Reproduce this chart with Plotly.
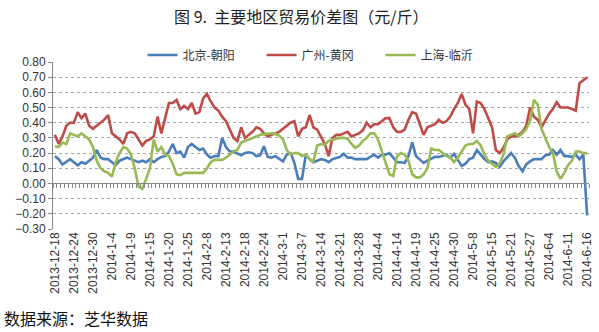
import plotly.graph_objects as go

date_labels = ["2013-12-18", "2013-12-24", "2013-12-30", "2014-1-4", "2014-1-9", "2014-1-15",
               "2014-1-20", "2014-1-25", "2014-2-8", "2014-2-13", "2014-2-18", "2014-2-24",
               "2014-3-1", "2014-3-7", "2014-3-14", "2014-3-21", "2014-3-28", "2014-4-4",
               "2014-4-14", "2014-4-19", "2014-4-25", "2014-4-30", "2014-5-8", "2014-5-15",
               "2014-5-21", "2014-5-27", "2014-6-4", "2014-6-11", "2014-6-16"]

series_names = ["北京-朝阳", "广州-黄冈", "上海-临沂"]

beijing = [0.18, 0.16, 0.125, 0.145, 0.16, 0.14, 0.12, 0.14, 0.13, 0.15,
           0.17, 0.22, 0.17, 0.16, 0.16, 0.14, 0.12, 0.15, 0.16, 0.17,
           0.16, 0.15, 0.14, 0.15, 0.14, 0.16, 0.14, 0.16, 0.175, 0.18,
           0.21, 0.26, 0.20, 0.21, 0.17, 0.24, 0.26, 0.24, 0.22, 0.23,
           0.19, 0.17, 0.18, 0.18, 0.30, 0.24, 0.21, 0.21, 0.20, 0.185,
           0.20, 0.205, 0.20, 0.18, 0.185, 0.245, 0.175, 0.17, 0.18, 0.16,
           0.145, 0.19, 0.20, 0.135, 0.03, 0.03, 0.19, 0.16, 0.14, 0.15,
           0.16, 0.155, 0.14, 0.16, 0.165, 0.175, 0.195, 0.17, 0.17, 0.16,
           0.16, 0.16, 0.16, 0.175, 0.19, 0.17, 0.19, 0.19, 0.20, 0.17,
           0.14, 0.14, 0.135, 0.18, 0.27, 0.18, 0.16, 0.135, 0.15, 0.16,
           0.175, 0.175, 0.18, 0.19, 0.17, 0.195, 0.155, 0.115, 0.13, 0.16,
           0.17, 0.22, 0.19, 0.16, 0.14, 0.145, 0.135, 0.11, 0.145, 0.17,
           0.20, 0.17, 0.115, 0.08, 0.125, 0.145, 0.16, 0.16, 0.16, 0.185,
           0.19, 0.22, 0.19, 0.22, 0.18, 0.18, 0.175, 0.19, 0.16, 0.19,
           -0.21]

guangzhou = [0.32, 0.26, 0.31, 0.38, 0.40, 0.40, 0.47, 0.43, 0.46, 0.38,
             0.36, 0.38, 0.40, 0.42, 0.45, 0.33, 0.31, 0.29, 0.26, 0.33,
             0.34, 0.33, 0.29, 0.25, 0.28, 0.29, 0.31, 0.44, 0.33, 0.43,
             0.53, 0.53, 0.55, 0.49, 0.51, 0.49, 0.53, 0.46, 0.47, 0.56,
             0.59, 0.54, 0.50, 0.48, 0.44, 0.41, 0.36, 0.30, 0.28, 0.37,
             0.30, 0.32, 0.34, 0.37, 0.36, 0.33, 0.31, 0.32, 0.33, 0.34,
             0.36, 0.38, 0.40, 0.41, 0.31, 0.36, 0.37, 0.45, 0.37, 0.355,
             0.31, 0.26, 0.18, 0.30, 0.32, 0.32, 0.33, 0.34, 0.31, 0.32,
             0.33, 0.35, 0.40, 0.37, 0.39, 0.39, 0.41, 0.43, 0.43, 0.37,
             0.34, 0.34, 0.355, 0.42, 0.47, 0.46, 0.39, 0.32, 0.37, 0.38,
             0.39, 0.42, 0.40, 0.41, 0.44, 0.49, 0.53, 0.59, 0.52, 0.49,
             0.33, 0.54, 0.53, 0.49, 0.43, 0.37, 0.22, 0.20, 0.235, 0.29,
             0.31, 0.31, 0.32, 0.34, 0.38, 0.50, 0.44, 0.42, 0.37, 0.42,
             0.46, 0.49, 0.535, 0.50, 0.50, 0.50, 0.49, 0.48, 0.66, 0.68,
             0.70]

shanghai = [0.245, 0.24, 0.27, 0.26, 0.33, 0.32, 0.31, 0.33, 0.31, 0.29,
            0.24, 0.15, 0.10, 0.08, 0.07, 0.045, 0.14, 0.20, 0.24, 0.23,
            0.19, 0.10, -0.02, -0.035, 0.03, 0.10, 0.29, 0.21, 0.24, 0.19,
            0.18, 0.13, 0.06, 0.055, 0.07, 0.07, 0.07, 0.07, 0.07, 0.07,
            0.10, 0.14, 0.155, 0.155, 0.155, 0.17, 0.19, 0.21, 0.22, 0.27,
            0.28, 0.29, 0.30, 0.315, 0.32, 0.325, 0.33, 0.33, 0.325, 0.315,
            0.29, 0.22, 0.19, 0.20, 0.20, 0.18, 0.19, 0.16, 0.145, 0.25,
            0.26, 0.255, 0.28, 0.29, 0.295, 0.30, 0.30, 0.295, 0.26, 0.235,
            0.25, 0.28, 0.30, 0.33, 0.33, 0.29, 0.21, 0.125, 0.06, 0.05,
            0.18, 0.20, 0.19, 0.15, 0.06, 0.04, 0.04, 0.06, 0.10, 0.23,
            0.22, 0.22, 0.20, 0.18, 0.17, 0.14, 0.17, 0.21, 0.25, 0.26,
            0.26, 0.28, 0.25, 0.19, 0.15, 0.13, 0.11, 0.13, 0.19, 0.31,
            0.32, 0.33, 0.31, 0.33, 0.36, 0.41, 0.55, 0.52, 0.36, 0.30,
            0.24, 0.20, 0.08, 0.03, 0.07, 0.12, 0.15, 0.21, 0.21, 0.20,
            0.20]

colors = ["#4A7EBB", "#BE4B48", "#98B954"]
n = len(beijing)
x = list(range(n))
label_step = 5

fig = go.Figure()
for name, vals, col in zip(series_names, [beijing, guangzhou, shanghai], colors):
    fig.add_trace(go.Scatter(x=x, y=vals, mode="lines", name=name,
                             line=dict(color=col, width=2.6)))

# invisible trace on secondary x axis to draw tick marks on the zero line
fig.add_trace(go.Scatter(x=[x[0]], y=[0], xaxis="x2", mode="markers",
                         marker=dict(opacity=0), showlegend=False, hoverinfo="skip"))

y_min, y_max = -0.3, 0.8
zero_pos = (0 - y_min) / (y_max - y_min)

fig.update_layout(
    width=599, height=332,
    margin=dict(l=53, r=10, t=62, b=103, autoexpand=False),
    paper_bgcolor="white", plot_bgcolor="white",
    font=dict(family="Liberation Sans, Arial, sans-serif", color="#333333", size=11),
    title=dict(text="图 9.  主要地区贸易价差图（元/斤）",
               font=dict(family="Noto Sans CJK SC", size=16, color="#222222"),
               x=0.503, xref="container", xanchor="center",
               y=1 - 17 / 332, yref="container", yanchor="middle"),
    legend=dict(orientation="h", x=0.238, xref="container", xanchor="left",
                y=1 - 55 / 332, yref="container", yanchor="middle",
                font=dict(family="Noto Sans CJK SC", size=12, color="#333333"),
                bgcolor="rgba(0,0,0,0)", entrywidth=74, entrywidthmode="pixels",
                itemwidth=30),
    xaxis=dict(range=[-0.5, n - 0.5], tickmode="array",
               tickvals=x[::label_step], ticktext=date_labels,
               tickangle=-90, showgrid=False, zeroline=False,
               showline=False, ticks="",
               tickfont=dict(family="Liberation Sans", size=12, color="#333333")),
    xaxis2=dict(range=[-0.5, n - 0.5], overlaying="x", anchor="free",
                position=zero_pos, tickmode="array",
                tickvals=[i - 0.5 for i in range(n + 1)],
                ticks="outside", ticklen=4, tickcolor="#888888", tickwidth=1,
                showticklabels=False, showline=True, linecolor="#888888",
                linewidth=1, showgrid=False, zeroline=False),
    yaxis=dict(range=[y_min, y_max], dtick=0.1, tick0=0, tickformat=".2f",
               showgrid=True, gridcolor="#a6a6a6", griddash="dot", gridwidth=1,
               zeroline=False, showline=True, linecolor="#888888", linewidth=1,
               ticks="outside", ticklen=4, tickcolor="#888888",
               tickfont=dict(family="Liberation Sans", size=12, color="#333333")),
)
fig.add_annotation(text="数据来源：芝华数据", xref="paper", yref="paper",
                   x=-51 / 536, y=-(318 - 229) / 167, xanchor="left", yanchor="middle",
                   showarrow=False,
                   font=dict(family="Noto Sans CJK SC", size=16, color="#111111"))

fig.write_html("out.html")
